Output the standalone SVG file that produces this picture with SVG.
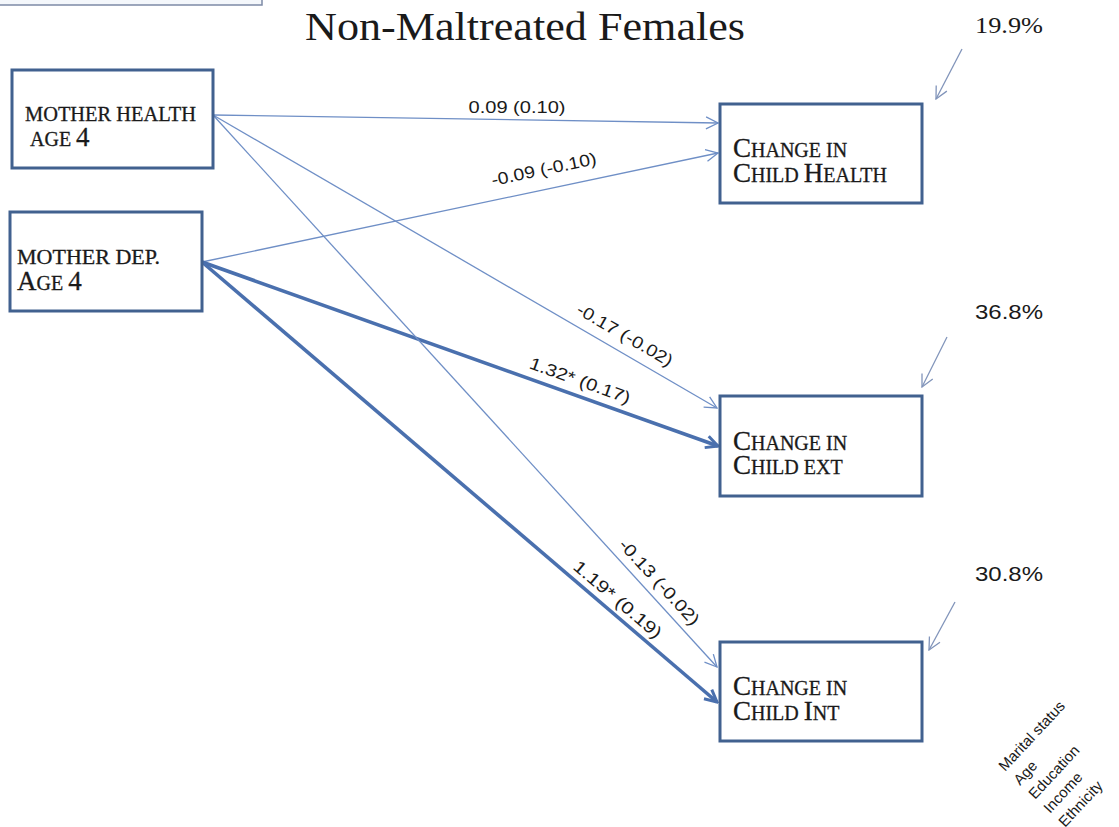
<svg xmlns="http://www.w3.org/2000/svg" width="1119" height="827" viewBox="0 0 1119 827">
  <style>
    .box { fill: #ffffff; stroke: #41618f; stroke-width: 3; }
    .serif { font-family: "Liberation Serif", "DejaVu Serif", serif; fill: #1a1a1a; }
    .heavy { stroke: #1a1a1a; stroke-width: 0.3; }
    .sans { font-family: "Liberation Sans", "DejaVu Sans", sans-serif; fill: #1a1a1a; }
    .thin { fill: none; stroke: #6f8fc6; stroke-width: 1.3; marker-end: url(#arrowThin); }
    .thick { fill: none; stroke: #4a70ae; stroke-width: 3.6; marker-end: url(#arrowThick); }
    .pct { fill: none; stroke: #8194ba; stroke-width: 1.3; marker-end: url(#arrowPct); }
    .lbl { font-size: 17px; text-anchor: middle; }
    .sc { font-size: 20px; }
    .cap { font-size: 27px; }
  </style>
  <defs>
    <marker id="arrowThin" viewBox="0 0 14 14" refX="13" refY="7" markerWidth="14" markerHeight="14" markerUnits="userSpaceOnUse" orient="auto">
      <path d="M1,1 L13,7 L1,13" fill="none" stroke="#6f8fc6" stroke-width="1.3"/>
    </marker>
    <marker id="arrowThick" viewBox="0 0 16 16" refX="14" refY="8" markerWidth="16" markerHeight="16" markerUnits="userSpaceOnUse" orient="auto">
      <path d="M2,2 L14,8 L2,14" fill="none" stroke="#4a70ae" stroke-width="3"/>
    </marker>
    <marker id="arrowPct" viewBox="0 0 14 14" refX="13" refY="7" markerWidth="14" markerHeight="14" markerUnits="userSpaceOnUse" orient="auto">
      <path d="M1,1 L13,7 L1,13" fill="none" stroke="#8194ba" stroke-width="1.3"/>
    </marker>
  </defs>

  <rect width="1119" height="827" fill="#ffffff"/>

  <!-- header panel cut off at the top edge -->
  <rect x="-5" y="-30" width="267" height="35" fill="#f4f7fb" stroke="#7d8aa6" stroke-width="1.5"/>

  <!-- title -->
  <text class="serif" x="305" y="40" font-size="39" textLength="440" lengthAdjust="spacingAndGlyphs">Non-Maltreated Females</text>

  <!-- connectors -->
  <g id="connectors">
    <line class="thin" x1="213" y1="115" x2="718" y2="123"/>
    <line class="thin" x1="202" y1="262" x2="718" y2="153"/>
    <line class="thin" x1="213" y1="115" x2="717" y2="408"/>
    <line class="thick" x1="202" y1="262" x2="718" y2="446"/>
    <line class="thin" x1="213" y1="115" x2="717" y2="667"/>
    <line class="thick" x1="202" y1="262" x2="717" y2="702"/>

    <text class="sans lbl" x="517" y="113" textLength="97" lengthAdjust="spacingAndGlyphs">0.09 (0.10)</text>
    <text class="sans lbl" transform="translate(545,175) rotate(-11.9)" textLength="107" lengthAdjust="spacingAndGlyphs">-0.09 (-0.10)</text>
    <text class="sans lbl" transform="translate(622,340) rotate(30.1)" textLength="108" lengthAdjust="spacingAndGlyphs">-0.17 (-0.02)</text>
    <text class="sans lbl" transform="translate(578,386) rotate(19.8)" textLength="106" lengthAdjust="spacingAndGlyphs">1.32* (0.17)</text>
    <text class="sans lbl" transform="translate(655,586) rotate(47.5)" textLength="110" lengthAdjust="spacingAndGlyphs">-0.13 (-0.02)</text>
    <text class="sans lbl" transform="translate(614,604) rotate(40.4)" textLength="110" lengthAdjust="spacingAndGlyphs">1.19* (0.19)</text>
  </g>

  <!-- predictors -->
  <g id="mother-health">
    <rect class="box" x="12" y="70" width="201" height="98"/>
    <text class="serif heavy sc" x="25" y="121" textLength="171" lengthAdjust="spacingAndGlyphs">MOTHER HEALTH</text>
    <text class="serif heavy" x="30" y="146"><tspan class="sc">AGE </tspan><tspan class="cap">4</tspan></text>
  </g>

  <g id="mother-dep">
    <rect class="box" x="10" y="212" width="192" height="99"/>
    <text class="serif heavy sc" x="17" y="264" textLength="143" lengthAdjust="spacingAndGlyphs">MOTHER DEP.</text>
    <text class="serif heavy" x="17" y="290"><tspan class="cap">A</tspan><tspan class="sc">GE </tspan><tspan class="cap">4</tspan></text>
  </g>

  <!-- outcomes -->
  <g id="child-health">
    <rect class="box" x="720" y="104" width="202" height="99"/>
    <text class="serif heavy" x="733" y="157"><tspan class="cap">C</tspan><tspan class="sc">HANGE IN</tspan></text>
    <text class="serif heavy" x="733" y="182"><tspan class="cap">C</tspan><tspan class="sc">HILD </tspan><tspan class="cap">H</tspan><tspan class="sc">EALTH</tspan></text>
  </g>

  <g id="child-ext">
    <rect class="box" x="720" y="396" width="202" height="100"/>
    <text class="serif heavy" x="733" y="450"><tspan class="cap">C</tspan><tspan class="sc">HANGE IN</tspan></text>
    <text class="serif heavy" x="733" y="474"><tspan class="cap">C</tspan><tspan class="sc">HILD EXT</tspan></text>
  </g>

  <g id="child-int">
    <rect class="box" x="720" y="642" width="202" height="99"/>
    <text class="serif heavy" x="733" y="695"><tspan class="cap">C</tspan><tspan class="sc">HANGE IN</tspan></text>
    <text class="serif heavy" x="733" y="720"><tspan class="cap">C</tspan><tspan class="sc">HILD </tspan><tspan class="cap">I</tspan><tspan class="sc">NT</tspan></text>
  </g>

  <!-- explained variance -->
  <g id="r2-health">
    <text class="serif" x="975" y="33" font-size="23" textLength="68" lengthAdjust="spacingAndGlyphs">19.9%</text>
    <line class="pct" x1="962" y1="49" x2="936" y2="99"/>
  </g>
  <g id="r2-ext">
    <text class="sans" x="975" y="319" font-size="20" textLength="68" lengthAdjust="spacingAndGlyphs">36.8%</text>
    <line class="pct" x1="947" y1="337" x2="922" y2="387"/>
  </g>
  <g id="r2-int">
    <text class="sans" x="975" y="581" font-size="20" textLength="68" lengthAdjust="spacingAndGlyphs">30.8%</text>
    <line class="pct" x1="955" y1="602" x2="929" y2="650"/>
  </g>

  <!-- covariates -->
  <g id="covariates" class="sans" font-size="15" fill="#333333" transform="translate(1005,772) rotate(-47)">
    <text x="0" y="0">Marital status</text>
    <text x="0" y="20.5">Age</text>
    <text x="0" y="41">Education</text>
    <text x="0" y="61.5">Income</text>
    <text x="0" y="82">Ethnicity</text>
  </g>
</svg>
